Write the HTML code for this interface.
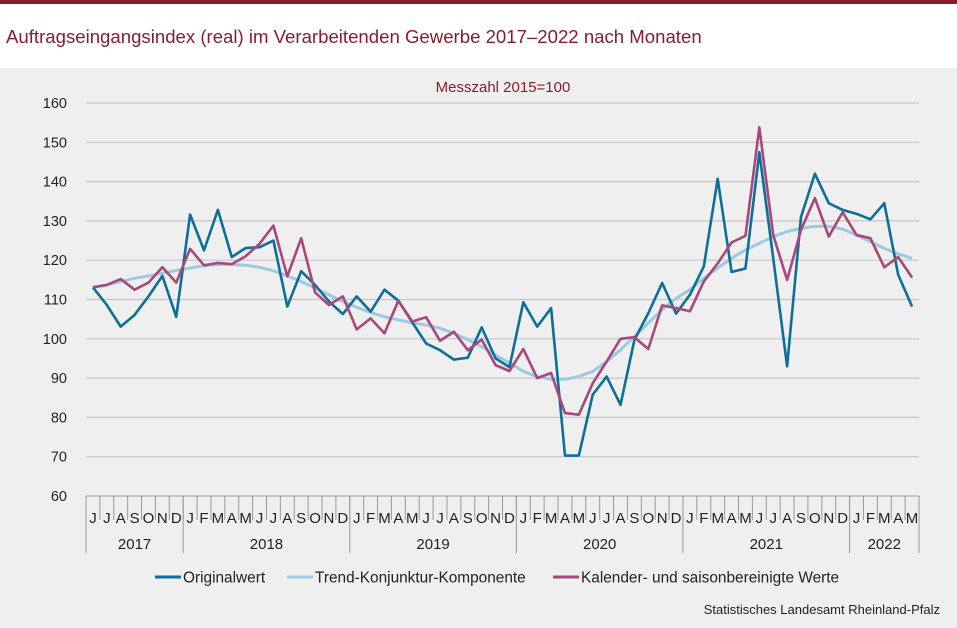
<!DOCTYPE html>
<html><head><meta charset="utf-8">
<style>
body{margin:0;width:957px;height:628px;overflow:hidden;background:#eeefee;font-family:"Liberation Sans",sans-serif}
#hdr{position:absolute;left:0;top:0;width:957px;height:68px;background:#fff;border-top:4px solid #8b1c2e;box-sizing:border-box}
#title{position:absolute;left:6px;top:22px;font-size:18.6px;color:#8b1c2e}
svg{position:absolute;left:0;top:0}
</style></head><body>
<div id="hdr"><div id="title">Auftragseingangsindex (real) im Verarbeitenden Gewerbe 2017–2022 nach Monaten</div></div>
<svg id="c" width="957" height="628"></svg>
<script>
const monthLabels=["J","J","A","S","O","N","D","J","F","M","A","M","J","J","A","S","O","N","D","J","F","M","A","M","J","J","A","S","O","N","D","J","F","M","A","M","J","J","A","S","O","N","D","J","F","M","A","M","J","J","A","S","O","N","D","J","F","M","A","M"];
const years=["2017","2018","2019","2020","2021","2022"];
const yearMonths=[7,12,12,12,12,5];
const yTicks=[60,70,80,90,100,110,120,130,140,150,160];
const original=[113.1,108.6,103.1,106.1,110.8,116,105.6,131.6,122.5,132.8,120.8,123.1,123.3,125,108.2,117.2,113.7,109.5,106.3,110.8,106.9,112.5,109.7,104.2,98.8,97.1,94.7,95.2,102.9,95,92.8,109.3,103.1,107.8,70.3,70.3,85.8,90.4,83.2,99.7,106.5,114.2,106.4,111.2,118.4,140.7,117,117.9,147.5,120.5,93,131,142,134.5,132.8,131.8,130.4,134.5,116.3,108.2];
const trend=[113.1,113.7,114.6,115.4,116,116.7,117.4,118,118.6,118.9,118.9,118.7,118.2,117.3,116,114.6,112.9,111.2,109.5,108,106.7,105.6,104.8,104.1,103.5,102.7,101.4,99.8,98,95.8,93.9,91.7,90.4,89.7,89.7,90.4,91.7,94.2,97.2,100.6,104,107.4,110.3,112.5,115.4,118,120.5,122.6,124.3,126,127.3,128.1,128.6,128.6,127.9,126.4,124.7,123,121.6,120.5];
const adjusted=[113.1,113.7,115.2,112.5,114.3,118.2,114.3,122.9,118.7,119.3,119,121,124.2,128.8,115.9,125.6,111.8,108.6,110.8,102.4,105.2,101.4,109.7,104.4,105.5,99.5,101.8,97.1,99.8,93.3,91.8,97.4,90,91.3,81.1,80.7,88.7,94.2,100,100.4,97.4,108.5,107.8,107,114.6,119.2,124.5,126.2,153.8,126.4,115,127.7,135.8,126,132.2,126.4,125.6,118.2,120.8,115.6];
const svg=document.getElementById('c');const NS='http://www.w3.org/2000/svg';
const X0=86,X1=919,Y0=496,Y1=103,N=monthLabels.length,W=(X1-X0)/N;
const xs=i=>X0+W*(i+0.5);const ys=v=>Y0-(v-60)*(Y0-Y1)/100;
function mk(t,a,txt){const e=document.createElementNS(NS,t);for(const k in a)e.setAttribute(k,a[k]);if(txt!==undefined)e.textContent=txt;svg.appendChild(e);return e;}
let e=mk('text',{x:503,y:92,'text-anchor':'middle','font-size':15,fill:'#8b1c2e'},'Messzahl 2015=100');


yTicks.forEach(v=>{
 if(v>60){const g=mk('line',{x1:X0,x2:X1,y1:ys(v),y2:ys(v),stroke:'#c6c6c6','stroke-width':1.2});
 
 }
 const t=mk('text',{x:67,y:ys(v)+5,'text-anchor':'end','font-size':14.5,fill:'#222'},v);
 
 
});
let ax=mk('line',{x1:X0,x2:X1,y1:Y0,y2:Y0,stroke:'#999','stroke-width':1});


for(let i=0;i<=N;i++){const l=mk('line',{x1:X0+W*i,x2:X0+W*i,y1:Y0,y2:520,stroke:'#999','stroke-width':1});
 
 }
monthLabels.forEach((m,i)=>{const t=mk('text',{x:xs(i),y:523,'text-anchor':'middle','font-size':15,fill:'#222'},m);
 
 });
let acc=0;
years.forEach((y,k)=>{const a=acc;acc+=yearMonths[k];
 const l=mk('line',{x1:X0+W*a,x2:X0+W*a,y1:Y0,y2:553,stroke:'#999','stroke-width':1});
 
 
 const t=mk('text',{x:X0+W*(a+acc)/2,y:549,'text-anchor':'middle','font-size':15,fill:'#222'},y);
 
 });
let le=mk('line',{x1:X1,x2:X1,y1:Y0,y2:553,stroke:'#999','stroke-width':1});


function series(arr,col,w,name){const p=mk('polyline',{points:arr.map((v,i)=>xs(i)+','+ys(v)).join(' '),fill:'none',stroke:col,'stroke-width':w,'stroke-linejoin':'round'});
 
 }
series(trend,'#9ecae0',3,'trend-line');
series(original,'#0d6e9a',2.6,'original-line');
series(adjusted,'#a8487a',2.6,'adjusted-line');
const leg=[['Originalwert','#0d6e9a',155],['Trend-Konjunktur-Komponente','#9ecae0',287],['Kalender- und saisonbereinigte Werte','#a8487a',553]];
leg.forEach(([t,c,x])=>{const l=mk('line',{x1:x,x2:x+26,y1:577,y2:577,stroke:c,'stroke-width':3});
 
 
 const tx=mk('text',{x:x+28,y:582.5,'font-size':15.4,fill:'#222'},t);
 
 });
let s=mk('text',{x:940,y:614,'text-anchor':'end','font-size':13,fill:'#222'},'Statistisches Landesamt  Rheinland-Pfalz');


</script>
</body></html>
